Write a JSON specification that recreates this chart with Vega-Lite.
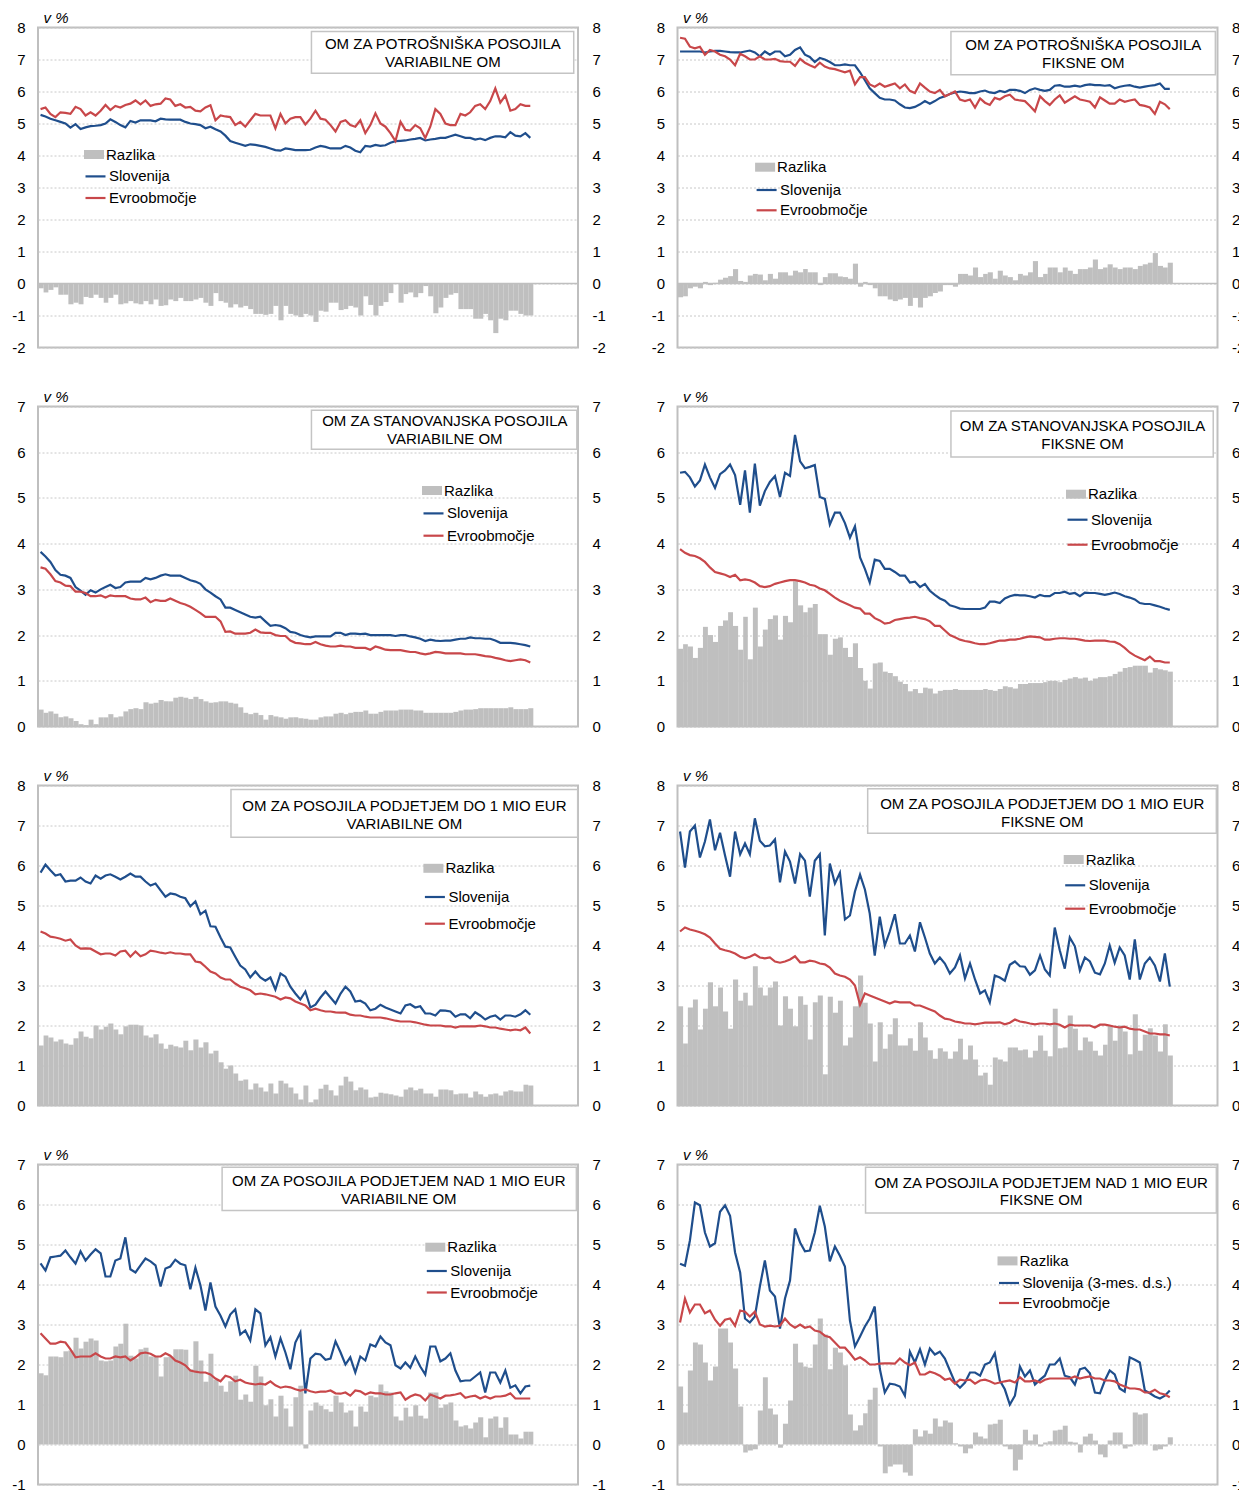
{
"$schema":"https://vega.github.io/schema/vega-lite/v6.json",
"padding":{"left":10,"top":9.5,"right":0,"bottom":0},
"columns":2,
"spacing":{"row":32,"column":42.5},
"datasets":{
"one":[{}],
"p1":[
{"t":"2012-01","b":-0.15,"s":5.27,"e":5.45},{"t":"2012-02","b":-0.28,"s":5.22,"e":5.5},{"t":"2012-03","b":-0.2,"s":5.15,"e":5.3},{"t":"2012-04","b":-0.12,"s":5.1,"e":5.2},{"t":"2012-05","b":-0.35,"s":5.05,"e":5.35},{"t":"2012-06","b":-0.35,"s":5.0,"e":5.33},{"t":"2012-07","b":-0.65,"s":4.87,"e":5.3},{"t":"2012-08","b":-0.6,"s":4.98,"e":5.52},{"t":"2012-09","b":-0.65,"s":4.83,"e":5.45},{"t":"2012-10","b":-0.42,"s":4.88,"e":5.25},{"t":"2012-11","b":-0.45,"s":4.92,"e":5.35},{"t":"2012-12","b":-0.35,"s":4.93,"e":5.25},
{"t":"2013-01","b":-0.45,"s":4.95,"e":5.4},{"t":"2013-02","b":-0.6,"s":5.0,"e":5.58},{"t":"2013-03","b":-0.45,"s":5.13,"e":5.42},{"t":"2013-04","b":-0.35,"s":5.05,"e":5.55},{"t":"2013-05","b":-0.65,"s":4.95,"e":5.5},{"t":"2013-06","b":-0.62,"s":4.88,"e":5.58},{"t":"2013-07","b":-0.55,"s":5.08,"e":5.62},{"t":"2013-08","b":-0.62,"s":5.03,"e":5.72},{"t":"2013-09","b":-0.65,"s":5.1,"e":5.6},{"t":"2013-10","b":-0.55,"s":5.1,"e":5.72},{"t":"2013-11","b":-0.65,"s":5.1,"e":5.55},{"t":"2013-12","b":-0.5,"s":5.07,"e":5.6},
{"t":"2014-01","b":-0.7,"s":5.15,"e":5.62},{"t":"2014-02","b":-0.68,"s":5.13,"e":5.78},{"t":"2014-03","b":-0.5,"s":5.12,"e":5.75},{"t":"2014-04","b":-0.55,"s":5.12,"e":5.55},{"t":"2014-05","b":-0.45,"s":5.12,"e":5.6},{"t":"2014-06","b":-0.55,"s":5.05,"e":5.5},{"t":"2014-07","b":-0.55,"s":5.0,"e":5.52},{"t":"2014-08","b":-0.5,"s":4.98,"e":5.4},{"t":"2014-09","b":-0.45,"s":4.95,"e":5.38},{"t":"2014-10","b":-0.6,"s":4.85,"e":5.5},{"t":"2014-11","b":-0.7,"s":4.9,"e":5.57},{"t":"2014-12","b":-0.3,"s":4.82,"e":5.1},
{"t":"2015-01","b":-0.55,"s":4.75,"e":5.25},{"t":"2015-02","b":-0.6,"s":4.62,"e":5.22},{"t":"2015-03","b":-0.75,"s":4.45,"e":5.2},{"t":"2015-04","b":-0.65,"s":4.4,"e":4.95},{"t":"2015-05","b":-0.75,"s":4.35,"e":5.05},{"t":"2015-06","b":-0.7,"s":4.3,"e":4.9},{"t":"2015-07","b":-0.8,"s":4.35,"e":5.1},{"t":"2015-08","b":-0.95,"s":4.33,"e":5.3},{"t":"2015-09","b":-0.95,"s":4.3,"e":5.25},{"t":"2015-10","b":-0.98,"s":4.27,"e":5.25},{"t":"2015-11","b":-0.95,"s":4.22,"e":5.25},{"t":"2015-12","b":-0.7,"s":4.17,"e":4.85},
{"t":"2016-01","b":-1.15,"s":4.15,"e":5.3},{"t":"2016-02","b":-0.7,"s":4.22,"e":5.0},{"t":"2016-03","b":-0.95,"s":4.2,"e":5.15},{"t":"2016-04","b":-1.0,"s":4.17,"e":5.2},{"t":"2016-05","b":-1.05,"s":4.17,"e":5.2},{"t":"2016-06","b":-0.95,"s":4.17,"e":4.97},{"t":"2016-07","b":-1.0,"s":4.18,"e":5.15},{"t":"2016-08","b":-1.2,"s":4.25,"e":5.4},{"t":"2016-09","b":-0.85,"s":4.3,"e":5.15},{"t":"2016-10","b":-0.88,"s":4.27,"e":5.12},{"t":"2016-11","b":-0.6,"s":4.22,"e":4.95},{"t":"2016-12","b":-0.6,"s":4.22,"e":4.75},
{"t":"2017-01","b":-0.83,"s":4.22,"e":5.05},{"t":"2017-02","b":-0.8,"s":4.3,"e":5.1},{"t":"2017-03","b":-0.7,"s":4.25,"e":4.95},{"t":"2017-04","b":-0.75,"s":4.15,"e":4.9},{"t":"2017-05","b":-1.0,"s":4.1,"e":5.1},{"t":"2017-06","b":-0.4,"s":4.3,"e":4.7},{"t":"2017-07","b":-0.67,"s":4.28,"e":4.95},{"t":"2017-08","b":-1.0,"s":4.33,"e":5.32},{"t":"2017-09","b":-0.7,"s":4.3,"e":5.0},{"t":"2017-10","b":-0.58,"s":4.32,"e":4.9},{"t":"2017-11","b":-0.3,"s":4.4,"e":4.7},{"t":"2017-12","b":0.0,"s":4.45,"e":4.45},
{"t":"2018-01","b":-0.6,"s":4.46,"e":5.05},{"t":"2018-02","b":-0.33,"s":4.47,"e":4.8},{"t":"2018-03","b":-0.28,"s":4.5,"e":4.78},{"t":"2018-04","b":-0.43,"s":4.52,"e":4.95},{"t":"2018-05","b":-0.3,"s":4.55,"e":4.85},{"t":"2018-06","b":-0.08,"s":4.47,"e":4.55},{"t":"2018-07","b":-0.4,"s":4.5,"e":4.9},{"t":"2018-08","b":-0.93,"s":4.52,"e":5.45},{"t":"2018-09","b":-0.75,"s":4.55,"e":5.3},{"t":"2018-10","b":-0.45,"s":4.55,"e":5.0},{"t":"2018-11","b":-0.35,"s":4.6,"e":4.95},{"t":"2018-12","b":-0.3,"s":4.65,"e":4.95},
{"t":"2019-01","b":-0.8,"s":4.6,"e":5.3},{"t":"2019-02","b":-0.8,"s":4.55,"e":5.25},{"t":"2019-03","b":-0.8,"s":4.55,"e":5.35},{"t":"2019-04","b":-1.1,"s":4.5,"e":5.55},{"t":"2019-05","b":-1.1,"s":4.53,"e":5.6},{"t":"2019-06","b":-0.95,"s":4.48,"e":5.45},{"t":"2019-07","b":-1.15,"s":4.55,"e":5.7},{"t":"2019-08","b":-1.55,"s":4.6,"e":6.1},{"t":"2019-09","b":-1.1,"s":4.6,"e":5.65},{"t":"2019-10","b":-1.15,"s":4.57,"e":5.87},{"t":"2019-11","b":-0.85,"s":4.73,"e":5.4},{"t":"2019-12","b":-0.85,"s":4.62,"e":5.45},
{"t":"2020-01","b":-0.95,"s":4.6,"e":5.6},{"t":"2020-02","b":-1.0,"s":4.7,"e":5.55},{"t":"2020-03","b":-1.0,"s":4.55,"e":5.55}],
"p2":[
{"t":"2012-01","b":-0.43,"s":7.25,"e":7.68},{"t":"2012-02","b":-0.4,"s":7.25,"e":7.65},{"t":"2012-03","b":-0.15,"s":7.25,"e":7.4},{"t":"2012-04","b":-0.1,"s":7.25,"e":7.35},{"t":"2012-05","b":-0.15,"s":7.25,"e":7.4},{"t":"2012-06","b":0.05,"s":7.22,"e":7.15},{"t":"2012-07","b":-0.05,"s":7.25,"e":7.3},{"t":"2012-08","b":0.02,"s":7.27,"e":7.25},{"t":"2012-09","b":0.12,"s":7.27,"e":7.15},{"t":"2012-10","b":0.18,"s":7.25,"e":7.1},{"t":"2012-11","b":0.23,"s":7.23,"e":7.0},{"t":"2012-12","b":0.45,"s":7.22,"e":6.82},
{"t":"2013-01","b":0.08,"s":7.22,"e":7.18},{"t":"2013-02","b":0.05,"s":7.25,"e":7.1},{"t":"2013-03","b":0.25,"s":7.28,"e":7.0},{"t":"2013-04","b":0.3,"s":7.22,"e":7.0},{"t":"2013-05","b":0.28,"s":7.1,"e":7.1},{"t":"2013-06","b":0.1,"s":7.25,"e":7.0},{"t":"2013-07","b":0.3,"s":7.15,"e":7.0},{"t":"2013-08","b":0.15,"s":7.25,"e":7.02},{"t":"2013-09","b":0.35,"s":7.25,"e":6.95},{"t":"2013-10","b":0.35,"s":7.1,"e":6.93},{"t":"2013-11","b":0.25,"s":7.15,"e":6.93},{"t":"2013-12","b":0.4,"s":7.3,"e":6.8},
{"t":"2014-01","b":0.35,"s":7.38,"e":7.02},{"t":"2014-02","b":0.45,"s":7.15,"e":6.9},{"t":"2014-03","b":0.35,"s":7.08,"e":6.82},{"t":"2014-04","b":0.35,"s":6.92,"e":6.75},{"t":"2014-05","b":-0.05,"s":7.05,"e":6.9},{"t":"2014-06","b":0.2,"s":7.0,"e":6.78},{"t":"2014-07","b":0.32,"s":6.92,"e":6.72},{"t":"2014-08","b":0.32,"s":6.82,"e":6.7},{"t":"2014-09","b":0.22,"s":6.82,"e":6.65},{"t":"2014-10","b":0.2,"s":6.85,"e":6.6},{"t":"2014-11","b":0.15,"s":6.82,"e":6.65},{"t":"2014-12","b":0.62,"s":6.82,"e":6.22},
{"t":"2015-01","b":-0.1,"s":6.6,"e":6.45},{"t":"2015-02","b":0.05,"s":6.35,"e":6.45},{"t":"2015-03","b":-0.05,"s":6.1,"e":6.22},{"t":"2015-04","b":-0.15,"s":5.95,"e":6.15},{"t":"2015-05","b":-0.4,"s":5.8,"e":6.25},{"t":"2015-06","b":-0.4,"s":5.75,"e":6.15},{"t":"2015-07","b":-0.5,"s":5.75,"e":6.2},{"t":"2015-08","b":-0.55,"s":5.72,"e":6.25},{"t":"2015-09","b":-0.5,"s":5.6,"e":6.1},{"t":"2015-10","b":-0.45,"s":5.5,"e":6.22},{"t":"2015-11","b":-0.7,"s":5.48,"e":6.02},{"t":"2015-12","b":-0.45,"s":5.52,"e":5.95},
{"t":"2016-01","b":-0.75,"s":5.6,"e":6.25},{"t":"2016-02","b":-0.45,"s":5.7,"e":6.12},{"t":"2016-03","b":-0.4,"s":5.62,"e":6.0},{"t":"2016-04","b":-0.3,"s":5.7,"e":5.95},{"t":"2016-05","b":-0.25,"s":5.8,"e":6.05},{"t":"2016-06","b":-0.05,"s":5.85,"e":5.85},{"t":"2016-07","b":-0.05,"s":5.92,"e":5.92},{"t":"2016-08","b":-0.1,"s":5.97,"e":6.0},{"t":"2016-09","b":0.3,"s":6.0,"e":5.75},{"t":"2016-10","b":0.3,"s":5.98,"e":5.7},{"t":"2016-11","b":0.25,"s":5.95,"e":5.75},{"t":"2016-12","b":0.5,"s":5.95,"e":5.5},
{"t":"2017-01","b":0.2,"s":6.0,"e":5.78},{"t":"2017-02","b":0.3,"s":6.03,"e":5.65},{"t":"2017-03","b":0.35,"s":5.97,"e":5.58},{"t":"2017-04","b":0.15,"s":5.95,"e":5.8},{"t":"2017-05","b":0.4,"s":6.02,"e":5.75},{"t":"2017-06","b":0.25,"s":5.98,"e":5.85},{"t":"2017-07","b":0.2,"s":6.05,"e":5.9},{"t":"2017-08","b":0.1,"s":6.05,"e":5.75},{"t":"2017-09","b":0.3,"s":6.02,"e":5.72},{"t":"2017-10","b":0.25,"s":5.95,"e":5.7},{"t":"2017-11","b":0.35,"s":6.05,"e":5.55},{"t":"2017-12","b":0.7,"s":6.1,"e":5.38},
{"t":"2018-01","b":0.2,"s":6.05,"e":5.85},{"t":"2018-02","b":0.3,"s":6.02,"e":5.7},{"t":"2018-03","b":0.5,"s":6.05,"e":5.58},{"t":"2018-04","b":0.5,"s":6.18,"e":5.75},{"t":"2018-05","b":0.35,"s":6.2,"e":5.88},{"t":"2018-06","b":0.5,"s":6.15,"e":5.65},{"t":"2018-07","b":0.4,"s":6.15,"e":5.75},{"t":"2018-08","b":0.3,"s":6.18,"e":5.85},{"t":"2018-09","b":0.45,"s":6.15,"e":5.75},{"t":"2018-10","b":0.45,"s":6.2,"e":5.72},{"t":"2018-11","b":0.5,"s":6.22,"e":5.68},{"t":"2018-12","b":0.75,"s":6.2,"e":5.5},
{"t":"2019-01","b":0.45,"s":6.2,"e":5.82},{"t":"2019-02","b":0.5,"s":6.18,"e":5.72},{"t":"2019-03","b":0.6,"s":6.2,"e":5.62},{"t":"2019-04","b":0.5,"s":6.1,"e":5.62},{"t":"2019-05","b":0.45,"s":6.15,"e":5.75},{"t":"2019-06","b":0.5,"s":6.18,"e":5.68},{"t":"2019-07","b":0.5,"s":6.2,"e":5.72},{"t":"2019-08","b":0.45,"s":6.15,"e":5.75},{"t":"2019-09","b":0.55,"s":6.12,"e":5.58},{"t":"2019-10","b":0.6,"s":6.15,"e":5.55},{"t":"2019-11","b":0.65,"s":6.18,"e":5.5},{"t":"2019-12","b":0.95,"s":6.2,"e":5.3},
{"t":"2020-01","b":0.55,"s":6.25,"e":5.68},{"t":"2020-02","b":0.5,"s":6.08,"e":5.6},{"t":"2020-03","b":0.65,"s":6.08,"e":5.45}],
"p3":[
{"t":"2012-01","b":0.37,"s":3.82,"e":3.48},{"t":"2012-02","b":0.3,"s":3.72,"e":3.45},{"t":"2012-03","b":0.33,"s":3.6,"e":3.33},{"t":"2012-04","b":0.28,"s":3.42,"e":3.18},{"t":"2012-05","b":0.2,"s":3.32,"e":3.15},{"t":"2012-06","b":0.22,"s":3.3,"e":3.08},{"t":"2012-07","b":0.18,"s":3.25,"e":3.07},{"t":"2012-08","b":0.12,"s":3.05,"e":2.95},{"t":"2012-09","b":0.05,"s":2.97,"e":2.95},{"t":"2012-10","b":0.03,"s":2.88,"e":2.92},{"t":"2012-11","b":0.15,"s":2.98,"e":2.85},{"t":"2012-12","b":0.05,"s":2.93,"e":2.85},
{"t":"2013-01","b":0.2,"s":3.0,"e":2.87},{"t":"2013-02","b":0.2,"s":3.05,"e":2.82},{"t":"2013-03","b":0.27,"s":3.1,"e":2.87},{"t":"2013-04","b":0.2,"s":3.03,"e":2.85},{"t":"2013-05","b":0.22,"s":3.05,"e":2.85},{"t":"2013-06","b":0.33,"s":3.15,"e":2.85},{"t":"2013-07","b":0.38,"s":3.17,"e":2.8},{"t":"2013-08","b":0.4,"s":3.17,"e":2.78},{"t":"2013-09","b":0.38,"s":3.17,"e":2.78},{"t":"2013-10","b":0.53,"s":3.25,"e":2.82},{"t":"2013-11","b":0.5,"s":3.22,"e":2.72},{"t":"2013-12","b":0.52,"s":3.25,"e":2.77},
{"t":"2014-01","b":0.58,"s":3.3,"e":2.75},{"t":"2014-02","b":0.55,"s":3.33,"e":2.75},{"t":"2014-03","b":0.55,"s":3.3,"e":2.8},{"t":"2014-04","b":0.63,"s":3.3,"e":2.75},{"t":"2014-05","b":0.65,"s":3.3,"e":2.7},{"t":"2014-06","b":0.63,"s":3.25,"e":2.67},{"t":"2014-07","b":0.6,"s":3.2,"e":2.62},{"t":"2014-08","b":0.65,"s":3.17,"e":2.55},{"t":"2014-09","b":0.6,"s":3.12,"e":2.48},{"t":"2014-10","b":0.55,"s":3.0,"e":2.4},{"t":"2014-11","b":0.52,"s":2.93,"e":2.4},{"t":"2014-12","b":0.53,"s":2.85,"e":2.4},
{"t":"2015-01","b":0.55,"s":2.78,"e":2.3},{"t":"2015-02","b":0.55,"s":2.6,"e":2.07},{"t":"2015-03","b":0.52,"s":2.6,"e":2.08},{"t":"2015-04","b":0.5,"s":2.55,"e":2.03},{"t":"2015-05","b":0.42,"s":2.5,"e":2.03},{"t":"2015-06","b":0.3,"s":2.45,"e":2.03},{"t":"2015-07","b":0.27,"s":2.4,"e":2.05},{"t":"2015-08","b":0.3,"s":2.38,"e":2.12},{"t":"2015-09","b":0.25,"s":2.4,"e":2.06},{"t":"2015-10","b":0.15,"s":2.3,"e":2.05},{"t":"2015-11","b":0.25,"s":2.2,"e":2.05},{"t":"2015-12","b":0.22,"s":2.22,"e":2.0},
{"t":"2016-01","b":0.2,"s":2.2,"e":1.98},{"t":"2016-02","b":0.17,"s":2.15,"e":1.98},{"t":"2016-03","b":0.2,"s":2.07,"e":1.88},{"t":"2016-04","b":0.2,"s":2.05,"e":1.83},{"t":"2016-05","b":0.18,"s":2.0,"e":1.82},{"t":"2016-06","b":0.17,"s":1.97,"e":1.8},{"t":"2016-07","b":0.15,"s":1.95,"e":1.8},{"t":"2016-08","b":0.15,"s":1.97,"e":1.85},{"t":"2016-09","b":0.2,"s":1.97,"e":1.8},{"t":"2016-10","b":0.22,"s":1.97,"e":1.77},{"t":"2016-11","b":0.22,"s":1.97,"e":1.75},{"t":"2016-12","b":0.28,"s":2.05,"e":1.75},
{"t":"2017-01","b":0.3,"s":2.05,"e":1.77},{"t":"2017-02","b":0.27,"s":2.0,"e":1.75},{"t":"2017-03","b":0.3,"s":2.03,"e":1.75},{"t":"2017-04","b":0.32,"s":2.03,"e":1.72},{"t":"2017-05","b":0.32,"s":2.02,"e":1.72},{"t":"2017-06","b":0.35,"s":2.03,"e":1.72},{"t":"2017-07","b":0.28,"s":2.0,"e":1.68},{"t":"2017-08","b":0.28,"s":2.0,"e":1.75},{"t":"2017-09","b":0.32,"s":2.0,"e":1.72},{"t":"2017-10","b":0.35,"s":2.0,"e":1.68},{"t":"2017-11","b":0.35,"s":2.0,"e":1.67},{"t":"2017-12","b":0.35,"s":1.98,"e":1.67},
{"t":"2018-01","b":0.37,"s":2.0,"e":1.67},{"t":"2018-02","b":0.37,"s":2.0,"e":1.65},{"t":"2018-03","b":0.37,"s":1.97,"e":1.63},{"t":"2018-04","b":0.35,"s":1.95,"e":1.63},{"t":"2018-05","b":0.35,"s":1.92,"e":1.6},{"t":"2018-06","b":0.3,"s":1.87,"e":1.58},{"t":"2018-07","b":0.3,"s":1.9,"e":1.6},{"t":"2018-08","b":0.3,"s":1.88,"e":1.63},{"t":"2018-09","b":0.3,"s":1.87,"e":1.62},{"t":"2018-10","b":0.3,"s":1.88,"e":1.6},{"t":"2018-11","b":0.3,"s":1.88,"e":1.6},{"t":"2018-12","b":0.32,"s":1.9,"e":1.6},
{"t":"2019-01","b":0.35,"s":1.92,"e":1.6},{"t":"2019-02","b":0.37,"s":1.92,"e":1.58},{"t":"2019-03","b":0.37,"s":1.95,"e":1.58},{"t":"2019-04","b":0.38,"s":1.93,"e":1.58},{"t":"2019-05","b":0.4,"s":1.93,"e":1.56},{"t":"2019-06","b":0.4,"s":1.92,"e":1.54},{"t":"2019-07","b":0.4,"s":1.92,"e":1.53},{"t":"2019-08","b":0.4,"s":1.88,"e":1.5},{"t":"2019-09","b":0.4,"s":1.83,"e":1.48},{"t":"2019-10","b":0.4,"s":1.83,"e":1.45},{"t":"2019-11","b":0.42,"s":1.83,"e":1.43},{"t":"2019-12","b":0.38,"s":1.82,"e":1.45},
{"t":"2020-01","b":0.38,"s":1.8,"e":1.47},{"t":"2020-02","b":0.38,"s":1.78,"e":1.45},{"t":"2020-03","b":0.4,"s":1.75,"e":1.4}],
"p4":[
{"t":"2012-01","b":1.7,"s":5.55,"e":3.88},{"t":"2012-02","b":1.8,"s":5.57,"e":3.8},{"t":"2012-03","b":1.75,"s":5.45,"e":3.75},{"t":"2012-04","b":1.5,"s":5.25,"e":3.73},{"t":"2012-05","b":1.72,"s":5.38,"e":3.68},{"t":"2012-06","b":2.18,"s":5.73,"e":3.6},{"t":"2012-07","b":2.0,"s":5.45,"e":3.48},{"t":"2012-08","b":1.85,"s":5.22,"e":3.38},{"t":"2012-09","b":2.2,"s":5.52,"e":3.35},{"t":"2012-10","b":2.32,"s":5.6,"e":3.32},{"t":"2012-11","b":2.5,"s":5.73,"e":3.27},{"t":"2012-12","b":2.2,"s":5.5,"e":3.32},
{"t":"2013-01","b":1.68,"s":4.85,"e":3.2},{"t":"2013-02","b":2.4,"s":5.6,"e":3.22},{"t":"2013-03","b":1.47,"s":4.68,"e":3.2},{"t":"2013-04","b":2.6,"s":5.75,"e":3.15},{"t":"2013-05","b":1.75,"s":4.83,"e":3.07},{"t":"2013-06","b":2.12,"s":5.15,"e":3.05},{"t":"2013-07","b":2.35,"s":5.35,"e":3.07},{"t":"2013-08","b":2.43,"s":5.48,"e":3.12},{"t":"2013-09","b":1.9,"s":5.02,"e":3.15},{"t":"2013-10","b":2.42,"s":5.55,"e":3.18},{"t":"2013-11","b":2.28,"s":5.48,"e":3.2},{"t":"2013-12","b":3.18,"s":6.38,"e":3.2},
{"t":"2014-01","b":2.65,"s":5.8,"e":3.18},{"t":"2014-02","b":2.5,"s":5.65,"e":3.15},{"t":"2014-03","b":2.6,"s":5.68,"e":3.1},{"t":"2014-04","b":2.68,"s":5.72,"e":3.08},{"t":"2014-05","b":2.02,"s":5.02,"e":3.02},{"t":"2014-06","b":2.02,"s":4.98,"e":2.98},{"t":"2014-07","b":1.57,"s":4.42,"e":2.9},{"t":"2014-08","b":1.92,"s":4.68,"e":2.82},{"t":"2014-09","b":1.95,"s":4.68,"e":2.75},{"t":"2014-10","b":1.72,"s":4.45,"e":2.7},{"t":"2014-11","b":1.52,"s":4.13,"e":2.65},{"t":"2014-12","b":1.82,"s":4.38,"e":2.6},
{"t":"2015-01","b":1.28,"s":3.7,"e":2.58},{"t":"2015-02","b":1.0,"s":3.45,"e":2.47},{"t":"2015-03","b":0.83,"s":3.15,"e":2.47},{"t":"2015-04","b":1.38,"s":3.65,"e":2.37},{"t":"2015-05","b":1.4,"s":3.62,"e":2.32},{"t":"2015-06","b":1.2,"s":3.45,"e":2.25},{"t":"2015-07","b":1.17,"s":3.45,"e":2.27},{"t":"2015-08","b":1.1,"s":3.38,"e":2.33},{"t":"2015-09","b":0.98,"s":3.3,"e":2.35},{"t":"2015-10","b":0.93,"s":3.3,"e":2.37},{"t":"2015-11","b":0.77,"s":3.15,"e":2.38},{"t":"2015-12","b":0.82,"s":3.17,"e":2.4},
{"t":"2016-01","b":0.73,"s":3.05,"e":2.37},{"t":"2016-02","b":0.85,"s":3.12,"e":2.35},{"t":"2016-03","b":0.83,"s":2.97,"e":2.3},{"t":"2016-04","b":0.72,"s":2.88,"e":2.2},{"t":"2016-05","b":0.78,"s":2.8,"e":2.2},{"t":"2016-06","b":0.8,"s":2.75,"e":2.1},{"t":"2016-07","b":0.8,"s":2.65,"e":2.0},{"t":"2016-08","b":0.82,"s":2.62,"e":1.95},{"t":"2016-09","b":0.8,"s":2.58,"e":1.9},{"t":"2016-10","b":0.8,"s":2.57,"e":1.87},{"t":"2016-11","b":0.8,"s":2.57,"e":1.85},{"t":"2016-12","b":0.8,"s":2.57,"e":1.82},
{"t":"2017-01","b":0.8,"s":2.57,"e":1.8},{"t":"2017-02","b":0.82,"s":2.6,"e":1.8},{"t":"2017-03","b":0.8,"s":2.73,"e":1.82},{"t":"2017-04","b":0.78,"s":2.73,"e":1.85},{"t":"2017-05","b":0.82,"s":2.7,"e":1.88},{"t":"2017-06","b":0.88,"s":2.8,"e":1.88},{"t":"2017-07","b":0.86,"s":2.85,"e":1.9},{"t":"2017-08","b":0.83,"s":2.88,"e":1.9},{"t":"2017-09","b":0.93,"s":2.87,"e":1.92},{"t":"2017-10","b":0.93,"s":2.87,"e":1.95},{"t":"2017-11","b":0.95,"s":2.85,"e":1.97},{"t":"2017-12","b":0.95,"s":2.82,"e":1.96},
{"t":"2018-01","b":0.95,"s":2.88,"e":1.95},{"t":"2018-02","b":0.97,"s":2.85,"e":1.9},{"t":"2018-03","b":1.0,"s":2.85,"e":1.9},{"t":"2018-04","b":1.0,"s":2.92,"e":1.92},{"t":"2018-05","b":0.97,"s":2.92,"e":1.93},{"t":"2018-06","b":1.02,"s":2.95,"e":1.93},{"t":"2018-07","b":1.05,"s":2.9,"e":1.92},{"t":"2018-08","b":1.08,"s":2.92,"e":1.92},{"t":"2018-09","b":1.05,"s":2.85,"e":1.9},{"t":"2018-10","b":1.07,"s":2.93,"e":1.88},{"t":"2018-11","b":1.0,"s":2.92,"e":1.87},{"t":"2018-12","b":1.05,"s":2.92,"e":1.88},
{"t":"2019-01","b":1.08,"s":2.9,"e":1.88},{"t":"2019-02","b":1.08,"s":2.88,"e":1.88},{"t":"2019-03","b":1.1,"s":2.9,"e":1.86},{"t":"2019-04","b":1.15,"s":2.93,"e":1.85},{"t":"2019-05","b":1.2,"s":2.9,"e":1.8},{"t":"2019-06","b":1.28,"s":2.85,"e":1.72},{"t":"2019-07","b":1.3,"s":2.82,"e":1.62},{"t":"2019-08","b":1.33,"s":2.78,"e":1.55},{"t":"2019-09","b":1.33,"s":2.7,"e":1.5},{"t":"2019-10","b":1.33,"s":2.68,"e":1.45},{"t":"2019-11","b":1.18,"s":2.68,"e":1.53},{"t":"2019-12","b":1.28,"s":2.65,"e":1.43},
{"t":"2020-01","b":1.25,"s":2.62,"e":1.43},{"t":"2020-02","b":1.23,"s":2.58,"e":1.4},{"t":"2020-03","b":1.2,"s":2.55,"e":1.4}],
"p5":[
{"t":"2012-01","b":1.5,"s":5.82,"e":4.35},{"t":"2012-02","b":1.75,"s":6.02,"e":4.3},{"t":"2012-03","b":1.7,"s":5.88,"e":4.22},{"t":"2012-04","b":1.6,"s":5.75,"e":4.2},{"t":"2012-05","b":1.65,"s":5.78,"e":4.17},{"t":"2012-06","b":1.55,"s":5.6,"e":4.12},{"t":"2012-07","b":1.52,"s":5.62,"e":4.15},{"t":"2012-08","b":1.68,"s":5.62,"e":4.0},{"t":"2012-09","b":1.85,"s":5.7,"e":3.92},{"t":"2012-10","b":1.72,"s":5.6,"e":3.93},{"t":"2012-11","b":1.68,"s":5.55,"e":3.92},{"t":"2012-12","b":2.0,"s":5.75,"e":3.85},
{"t":"2013-01","b":1.9,"s":5.67,"e":3.78},{"t":"2013-02","b":1.97,"s":5.75,"e":3.8},{"t":"2013-03","b":2.05,"s":5.78,"e":3.8},{"t":"2013-04","b":1.9,"s":5.72,"e":3.75},{"t":"2013-05","b":1.78,"s":5.65,"e":3.85},{"t":"2013-06","b":1.98,"s":5.72,"e":3.87},{"t":"2013-07","b":2.02,"s":5.8,"e":3.72},{"t":"2013-08","b":2.02,"s":5.72,"e":3.85},{"t":"2013-09","b":2.0,"s":5.72,"e":3.73},{"t":"2013-10","b":1.75,"s":5.6,"e":3.78},{"t":"2013-11","b":1.7,"s":5.5,"e":3.87},{"t":"2013-12","b":1.78,"s":5.55,"e":3.85},
{"t":"2014-01","b":1.55,"s":5.38,"e":3.82},{"t":"2014-02","b":1.42,"s":5.22,"e":3.8},{"t":"2014-03","b":1.52,"s":5.3,"e":3.83},{"t":"2014-04","b":1.48,"s":5.28,"e":3.8},{"t":"2014-05","b":1.45,"s":5.22,"e":3.8},{"t":"2014-06","b":1.62,"s":5.18,"e":3.78},{"t":"2014-07","b":1.38,"s":4.98,"e":3.78},{"t":"2014-08","b":1.65,"s":5.1,"e":3.6},{"t":"2014-09","b":1.45,"s":4.78,"e":3.58},{"t":"2014-10","b":1.58,"s":4.87,"e":3.47},{"t":"2014-11","b":1.3,"s":4.48,"e":3.35},{"t":"2014-12","b":1.37,"s":4.47,"e":3.3},
{"t":"2015-01","b":1.08,"s":4.2,"e":3.2},{"t":"2015-02","b":0.92,"s":3.97,"e":3.15},{"t":"2015-03","b":1.0,"s":3.95,"e":3.15},{"t":"2015-04","b":0.8,"s":3.72,"e":3.05},{"t":"2015-05","b":0.62,"s":3.5,"e":2.97},{"t":"2015-06","b":0.65,"s":3.4,"e":2.93},{"t":"2015-07","b":0.4,"s":3.2,"e":2.88},{"t":"2015-08","b":0.55,"s":3.35,"e":2.78},{"t":"2015-09","b":0.45,"s":3.2,"e":2.8},{"t":"2015-10","b":0.35,"s":3.12,"e":2.78},{"t":"2015-11","b":0.55,"s":3.2,"e":2.75},{"t":"2015-12","b":0.3,"s":2.9,"e":2.72},
{"t":"2016-01","b":0.62,"s":3.3,"e":2.65},{"t":"2016-02","b":0.55,"s":3.22,"e":2.7},{"t":"2016-03","b":0.45,"s":2.97,"e":2.68},{"t":"2016-04","b":0.3,"s":2.8,"e":2.6},{"t":"2016-05","b":0.15,"s":2.65,"e":2.55},{"t":"2016-06","b":0.5,"s":2.85,"e":2.5},{"t":"2016-07","b":0.08,"s":2.45,"e":2.38},{"t":"2016-08","b":0.15,"s":2.52,"e":2.42},{"t":"2016-09","b":0.42,"s":2.7,"e":2.38},{"t":"2016-10","b":0.52,"s":2.85,"e":2.35},{"t":"2016-11","b":0.38,"s":2.7,"e":2.35},{"t":"2016-12","b":0.25,"s":2.55,"e":2.33},
{"t":"2017-01","b":0.5,"s":2.8,"e":2.32},{"t":"2017-02","b":0.72,"s":2.97,"e":2.32},{"t":"2017-03","b":0.6,"s":2.85,"e":2.27},{"t":"2017-04","b":0.38,"s":2.6,"e":2.25},{"t":"2017-05","b":0.45,"s":2.62,"e":2.25},{"t":"2017-06","b":0.4,"s":2.55,"e":2.22},{"t":"2017-07","b":0.2,"s":2.38,"e":2.2},{"t":"2017-08","b":0.22,"s":2.42,"e":2.2},{"t":"2017-09","b":0.32,"s":2.52,"e":2.2},{"t":"2017-10","b":0.3,"s":2.45,"e":2.18},{"t":"2017-11","b":0.28,"s":2.4,"e":2.15},{"t":"2017-12","b":0.25,"s":2.35,"e":2.12},
{"t":"2018-01","b":0.22,"s":2.3,"e":2.1},{"t":"2018-02","b":0.4,"s":2.5,"e":2.1},{"t":"2018-03","b":0.45,"s":2.53,"e":2.1},{"t":"2018-04","b":0.38,"s":2.45,"e":2.08},{"t":"2018-05","b":0.42,"s":2.48,"e":2.05},{"t":"2018-06","b":0.3,"s":2.3,"e":2.02},{"t":"2018-07","b":0.3,"s":2.3,"e":2.0},{"t":"2018-08","b":0.22,"s":2.25,"e":2.0},{"t":"2018-09","b":0.4,"s":2.38,"e":2.0},{"t":"2018-10","b":0.4,"s":2.37,"e":1.98},{"t":"2018-11","b":0.38,"s":2.35,"e":1.98},{"t":"2018-12","b":0.28,"s":2.22,"e":1.95},
{"t":"2019-01","b":0.3,"s":2.28,"e":1.98},{"t":"2019-02","b":0.3,"s":2.28,"e":1.98},{"t":"2019-03","b":0.2,"s":2.18,"e":1.98},{"t":"2019-04","b":0.35,"s":2.33,"e":1.98},{"t":"2019-05","b":0.28,"s":2.25,"e":2.0},{"t":"2019-06","b":0.22,"s":2.15,"e":1.98},{"t":"2019-07","b":0.28,"s":2.22,"e":1.95},{"t":"2019-08","b":0.3,"s":2.25,"e":1.95},{"t":"2019-09","b":0.25,"s":2.15,"e":1.92},{"t":"2019-10","b":0.35,"s":2.25,"e":1.9},{"t":"2019-11","b":0.38,"s":2.25,"e":1.88},{"t":"2019-12","b":0.35,"s":2.22,"e":1.9},
{"t":"2020-01","b":0.35,"s":2.28,"e":1.88},{"t":"2020-02","b":0.52,"s":2.38,"e":1.95},{"t":"2020-03","b":0.5,"s":2.27,"e":1.8}],
"p6":[
{"t":"2012-01","b":2.48,"s":6.85,"e":4.35},{"t":"2012-02","b":1.55,"s":5.95,"e":4.45},{"t":"2012-03","b":2.45,"s":6.85,"e":4.4},{"t":"2012-04","b":2.65,"s":7.0,"e":4.37},{"t":"2012-05","b":1.9,"s":6.2,"e":4.33},{"t":"2012-06","b":2.42,"s":6.6,"e":4.28},{"t":"2012-07","b":3.08,"s":7.15,"e":4.2},{"t":"2012-08","b":2.48,"s":6.38,"e":4.05},{"t":"2012-09","b":2.95,"s":6.82,"e":3.92},{"t":"2012-10","b":2.35,"s":6.25,"e":3.88},{"t":"2012-11","b":1.92,"s":5.72,"e":3.85},{"t":"2012-12","b":3.15,"s":6.85,"e":3.8},
{"t":"2013-01","b":2.62,"s":6.28,"e":3.72},{"t":"2013-02","b":2.82,"s":6.55,"e":3.68},{"t":"2013-03","b":2.5,"s":6.28,"e":3.72},{"t":"2013-04","b":3.48,"s":7.18,"e":3.78},{"t":"2013-05","b":2.95,"s":6.62,"e":3.7},{"t":"2013-06","b":2.75,"s":6.48,"e":3.68},{"t":"2013-07","b":2.95,"s":6.5,"e":3.7},{"t":"2013-08","b":3.1,"s":6.65,"e":3.6},{"t":"2013-09","b":2.0,"s":5.58,"e":3.57},{"t":"2013-10","b":2.73,"s":6.35,"e":3.6},{"t":"2013-11","b":2.42,"s":6.1,"e":3.65},{"t":"2013-12","b":1.98,"s":5.55,"e":3.73},
{"t":"2014-01","b":2.73,"s":6.28,"e":3.58},{"t":"2014-02","b":2.52,"s":6.12,"e":3.58},{"t":"2014-03","b":1.65,"s":5.22,"e":3.62},{"t":"2014-04","b":2.58,"s":6.12,"e":3.6},{"t":"2014-05","b":2.75,"s":6.28,"e":3.55},{"t":"2014-06","b":0.78,"s":4.25,"e":3.53},{"t":"2014-07","b":2.72,"s":6.05,"e":3.45},{"t":"2014-08","b":2.32,"s":5.55,"e":3.3},{"t":"2014-09","b":2.62,"s":5.82,"e":3.25},{"t":"2014-10","b":1.5,"s":4.65,"e":3.22},{"t":"2014-11","b":1.7,"s":4.75,"e":3.15},{"t":"2014-12","b":2.48,"s":5.35,"e":3.0},
{"t":"2015-01","b":3.25,"s":5.77,"e":2.52},{"t":"2015-02","b":2.57,"s":5.4,"e":2.8},{"t":"2015-03","b":2.05,"s":4.8,"e":2.75},{"t":"2015-04","b":1.1,"s":3.75,"e":2.7},{"t":"2015-05","b":2.08,"s":4.72,"e":2.65},{"t":"2015-06","b":1.42,"s":4.0,"e":2.6},{"t":"2015-07","b":1.78,"s":4.35,"e":2.55},{"t":"2015-08","b":2.18,"s":4.78,"e":2.6},{"t":"2015-09","b":1.5,"s":4.05,"e":2.58},{"t":"2015-10","b":1.5,"s":4.05,"e":2.58},{"t":"2015-11","b":1.68,"s":4.25,"e":2.58},{"t":"2015-12","b":1.37,"s":3.85,"e":2.5},
{"t":"2016-01","b":2.08,"s":4.58,"e":2.5},{"t":"2016-02","b":1.7,"s":4.2,"e":2.45},{"t":"2016-03","b":1.38,"s":3.8,"e":2.4},{"t":"2016-04","b":1.17,"s":3.55,"e":2.35},{"t":"2016-05","b":1.43,"s":3.7,"e":2.25},{"t":"2016-06","b":1.35,"s":3.55,"e":2.17},{"t":"2016-07","b":1.17,"s":3.3,"e":2.15},{"t":"2016-08","b":1.35,"s":3.45,"e":2.1},{"t":"2016-09","b":1.67,"s":3.75,"e":2.08},{"t":"2016-10","b":1.15,"s":3.18,"e":2.05},{"t":"2016-11","b":1.5,"s":3.55,"e":2.05},{"t":"2016-12","b":1.15,"s":3.15,"e":2.03},
{"t":"2017-01","b":0.75,"s":2.8,"e":2.05},{"t":"2017-02","b":0.82,"s":2.88,"e":2.07},{"t":"2017-03","b":0.52,"s":2.58,"e":2.07},{"t":"2017-04","b":1.2,"s":3.25,"e":2.07},{"t":"2017-05","b":1.15,"s":3.2,"e":2.08},{"t":"2017-06","b":1.1,"s":3.12,"e":2.03},{"t":"2017-07","b":1.45,"s":3.52,"e":2.07},{"t":"2017-08","b":1.45,"s":3.6,"e":2.15},{"t":"2017-09","b":1.38,"s":3.48,"e":2.1},{"t":"2017-10","b":1.4,"s":3.47,"e":2.08},{"t":"2017-11","b":1.2,"s":3.27,"e":2.05},{"t":"2017-12","b":1.37,"s":3.38,"e":2.03},
{"t":"2018-01","b":1.75,"s":3.75,"e":2.05},{"t":"2018-02","b":1.37,"s":3.4,"e":2.05},{"t":"2018-03","b":1.23,"s":3.25,"e":2.03},{"t":"2018-04","b":2.42,"s":4.45,"e":2.05},{"t":"2018-05","b":1.43,"s":3.88,"e":2.02},{"t":"2018-06","b":1.45,"s":3.42,"e":1.95},{"t":"2018-07","b":2.25,"s":4.2,"e":2.02},{"t":"2018-08","b":1.92,"s":3.98,"e":2.0},{"t":"2018-09","b":1.38,"s":3.38,"e":2.0},{"t":"2018-10","b":1.7,"s":3.7,"e":2.0},{"t":"2018-11","b":1.6,"s":3.6,"e":2.0},{"t":"2018-12","b":1.37,"s":3.32,"e":1.95},
{"t":"2019-01","b":1.25,"s":3.28,"e":2.02},{"t":"2019-02","b":1.52,"s":3.55,"e":2.02},{"t":"2019-03","b":2.0,"s":4.0,"e":2.0},{"t":"2019-04","b":1.62,"s":3.57,"e":1.97},{"t":"2019-05","b":2.0,"s":3.95,"e":1.95},{"t":"2019-06","b":1.85,"s":3.75,"e":1.97},{"t":"2019-07","b":1.28,"s":3.15,"e":1.92},{"t":"2019-08","b":2.28,"s":4.15,"e":1.9},{"t":"2019-09","b":1.37,"s":3.15,"e":1.9},{"t":"2019-10","b":1.77,"s":3.55,"e":1.85},{"t":"2019-11","b":1.93,"s":3.7,"e":1.8},{"t":"2019-12","b":1.75,"s":3.5,"e":1.8},
{"t":"2020-01","b":1.35,"s":3.1,"e":1.78},{"t":"2020-02","b":2.03,"s":3.8,"e":1.78},{"t":"2020-03","b":1.25,"s":2.97,"e":1.75}],
"p7":[
{"t":"2012-01","b":1.78,"s":4.53,"e":2.78},{"t":"2012-02","b":1.73,"s":4.35,"e":2.65},{"t":"2012-03","b":2.2,"s":4.68,"e":2.52},{"t":"2012-04","b":2.2,"s":4.7,"e":2.52},{"t":"2012-05","b":2.18,"s":4.72,"e":2.57},{"t":"2012-06","b":2.33,"s":4.85,"e":2.55},{"t":"2012-07","b":2.35,"s":4.68,"e":2.38},{"t":"2012-08","b":2.67,"s":4.52,"e":2.18},{"t":"2012-09","b":2.4,"s":4.83,"e":2.2},{"t":"2012-10","b":2.57,"s":4.6,"e":2.2},{"t":"2012-11","b":2.65,"s":4.75,"e":2.2},{"t":"2012-12","b":2.6,"s":4.88,"e":2.28},
{"t":"2013-01","b":2.1,"s":4.78,"e":2.2},{"t":"2013-02","b":2.08,"s":4.2,"e":2.15},{"t":"2013-03","b":2.1,"s":4.2,"e":2.15},{"t":"2013-04","b":2.45,"s":4.6,"e":2.2},{"t":"2013-05","b":2.52,"s":4.65,"e":2.18},{"t":"2013-06","b":3.02,"s":5.18,"e":2.2},{"t":"2013-07","b":2.22,"s":4.38,"e":2.1},{"t":"2013-08","b":2.15,"s":4.3,"e":2.18},{"t":"2013-09","b":2.38,"s":4.48,"e":2.28},{"t":"2013-10","b":2.42,"s":4.65,"e":2.3},{"t":"2013-11","b":2.2,"s":4.58,"e":2.27},{"t":"2013-12","b":2.2,"s":4.48,"e":2.2},
{"t":"2014-01","b":1.7,"s":3.95,"e":2.2},{"t":"2014-02","b":2.18,"s":4.4,"e":2.28},{"t":"2014-03","b":2.2,"s":4.45,"e":2.22},{"t":"2014-04","b":2.38,"s":4.62,"e":2.1},{"t":"2014-05","b":2.38,"s":4.52,"e":2.05},{"t":"2014-06","b":2.37,"s":4.48,"e":1.98},{"t":"2014-07","b":1.88,"s":3.88,"e":1.85},{"t":"2014-08","b":2.58,"s":4.42,"e":1.82},{"t":"2014-09","b":2.1,"s":3.98,"e":1.8},{"t":"2014-10","b":1.57,"s":3.35,"e":1.8},{"t":"2014-11","b":2.27,"s":4.05,"e":1.75},{"t":"2014-12","b":1.62,"s":3.45,"e":1.65},
{"t":"2015-01","b":1.47,"s":3.22,"e":1.58},{"t":"2015-02","b":1.32,"s":2.95,"e":1.72},{"t":"2015-03","b":1.58,"s":3.25,"e":1.68},{"t":"2015-04","b":1.72,"s":3.38,"e":1.58},{"t":"2015-05","b":1.12,"s":2.75,"e":1.62},{"t":"2015-06","b":1.25,"s":2.85,"e":1.55},{"t":"2015-07","b":1.07,"s":2.6,"e":1.52},{"t":"2015-08","b":1.97,"s":3.38,"e":1.5},{"t":"2015-09","b":1.7,"s":3.28,"e":1.52},{"t":"2015-10","b":0.98,"s":2.48,"e":1.5},{"t":"2015-11","b":1.13,"s":2.68,"e":1.58},{"t":"2015-12","b":0.7,"s":2.2,"e":1.48},
{"t":"2016-01","b":1.22,"s":2.65,"e":1.42},{"t":"2016-02","b":0.9,"s":2.3,"e":1.45},{"t":"2016-03","b":0.45,"s":1.88,"e":1.43},{"t":"2016-04","b":1.18,"s":2.55,"e":1.38},{"t":"2016-05","b":1.47,"s":2.8,"e":1.35},{"t":"2016-06","b":-0.1,"s":1.28,"e":1.38},{"t":"2016-07","b":0.85,"s":2.15,"e":1.33},{"t":"2016-08","b":1.05,"s":2.27,"e":1.3},{"t":"2016-09","b":0.97,"s":2.25,"e":1.32},{"t":"2016-10","b":0.88,"s":2.12,"e":1.32},{"t":"2016-11","b":0.82,"s":2.15,"e":1.35},{"t":"2016-12","b":1.22,"s":2.58,"e":1.28},
{"t":"2017-01","b":1.05,"s":2.3,"e":1.27},{"t":"2017-02","b":0.8,"s":2.0,"e":1.3},{"t":"2017-03","b":0.85,"s":2.18,"e":1.22},{"t":"2017-04","b":0.45,"s":1.8,"e":1.35},{"t":"2017-05","b":0.95,"s":2.2,"e":1.33},{"t":"2017-06","b":0.82,"s":2.1,"e":1.25},{"t":"2017-07","b":1.22,"s":2.5,"e":1.3},{"t":"2017-08","b":1.18,"s":2.45,"e":1.28},{"t":"2017-09","b":1.5,"s":2.7,"e":1.28},{"t":"2017-10","b":1.33,"s":2.55,"e":1.25},{"t":"2017-11","b":1.3,"s":2.48,"e":1.25},{"t":"2017-12","b":0.7,"s":1.98,"e":1.28},
{"t":"2018-01","b":0.6,"s":1.9,"e":1.3},{"t":"2018-02","b":0.92,"s":2.05,"e":1.12},{"t":"2018-03","b":0.7,"s":1.92,"e":1.2},{"t":"2018-04","b":0.98,"s":2.2,"e":1.25},{"t":"2018-05","b":0.72,"s":1.95,"e":1.22},{"t":"2018-06","b":0.65,"s":1.75,"e":1.1},{"t":"2018-07","b":1.3,"s":2.45,"e":1.25},{"t":"2018-08","b":1.3,"s":2.45,"e":1.2},{"t":"2018-09","b":0.92,"s":2.08,"e":1.15},{"t":"2018-10","b":1.0,"s":2.15,"e":1.22},{"t":"2018-11","b":1.05,"s":2.28,"e":1.23},{"t":"2018-12","b":0.6,"s":1.85,"e":1.25},
{"t":"2019-01","b":0.45,"s":1.58,"e":1.28},{"t":"2019-02","b":0.48,"s":1.6,"e":1.17},{"t":"2019-03","b":0.4,"s":1.6,"e":1.2},{"t":"2019-04","b":0.55,"s":1.7,"e":1.22},{"t":"2019-05","b":0.68,"s":1.8,"e":1.15},{"t":"2019-06","b":0.18,"s":1.3,"e":1.2},{"t":"2019-07","b":0.65,"s":1.8,"e":1.15},{"t":"2019-08","b":0.7,"s":1.8,"e":1.2},{"t":"2019-09","b":0.42,"s":1.55,"e":1.2},{"t":"2019-10","b":0.68,"s":1.85,"e":1.22},{"t":"2019-11","b":0.25,"s":1.42,"e":1.28},{"t":"2019-12","b":0.25,"s":1.48,"e":1.15},
{"t":"2020-01","b":0.15,"s":1.28,"e":1.15},{"t":"2020-02","b":0.32,"s":1.45,"e":1.15},{"t":"2020-03","b":0.32,"s":1.47,"e":1.15}],
"p8":[
{"t":"2012-01","b":1.45,"s":4.52,"e":3.05},{"t":"2012-02","b":0.8,"s":4.47,"e":3.65},{"t":"2012-03","b":1.85,"s":5.1,"e":3.3},{"t":"2012-04","b":2.55,"s":6.05,"e":3.5},{"t":"2012-05","b":2.5,"s":5.98,"e":3.5},{"t":"2012-06","b":2.05,"s":5.3,"e":3.28},{"t":"2012-07","b":1.6,"s":4.95,"e":3.35},{"t":"2012-08","b":1.95,"s":5.03,"e":3.12},{"t":"2012-09","b":2.9,"s":5.82,"e":2.97},{"t":"2012-10","b":2.9,"s":5.98,"e":3.12},{"t":"2012-11","b":2.55,"s":5.72,"e":3.15},{"t":"2012-12","b":1.9,"s":4.8,"e":2.97},
{"t":"2013-01","b":0.95,"s":4.3,"e":3.35},{"t":"2013-02","b":-0.2,"s":3.15,"e":3.32},{"t":"2013-03","b":-0.15,"s":3.05,"e":3.2},{"t":"2013-04","b":-0.12,"s":3.2,"e":3.32},{"t":"2013-05","b":0.85,"s":3.95,"e":3.0},{"t":"2013-06","b":1.68,"s":4.6,"e":2.95},{"t":"2013-07","b":0.9,"s":3.85,"e":2.97},{"t":"2013-08","b":0.75,"s":3.7,"e":2.95},{"t":"2013-09","b":-0.08,"s":2.9,"e":2.97},{"t":"2013-10","b":0.52,"s":3.65,"e":3.15},{"t":"2013-11","b":1.1,"s":4.1,"e":3.0},{"t":"2013-12","b":2.52,"s":5.4,"e":2.92},
{"t":"2014-01","b":2.05,"s":5.05,"e":3.0},{"t":"2014-02","b":1.95,"s":4.83,"e":2.92},{"t":"2014-03","b":1.92,"s":4.85,"e":2.95},{"t":"2014-04","b":2.5,"s":5.3,"e":2.85},{"t":"2014-05","b":3.15,"s":5.97,"e":2.82},{"t":"2014-06","b":2.75,"s":5.45,"e":2.72},{"t":"2014-07","b":1.88,"s":4.58,"e":2.68},{"t":"2014-08","b":2.42,"s":4.95,"e":2.55},{"t":"2014-09","b":2.3,"s":4.72,"e":2.42},{"t":"2014-10","b":1.98,"s":4.45,"e":2.42},{"t":"2014-11","b":0.75,"s":3.1,"e":2.28},{"t":"2014-12","b":0.35,"s":2.45,"e":2.12},
{"t":"2015-01","b":0.48,"s":2.7,"e":2.18},{"t":"2015-02","b":0.78,"s":2.95,"e":2.1},{"t":"2015-03","b":1.12,"s":3.15,"e":2.0},{"t":"2015-04","b":1.42,"s":3.45,"e":2.0},{"t":"2015-05","b":-0.05,"s":1.9,"e":2.02},{"t":"2015-06","b":-0.72,"s":1.3,"e":2.03},{"t":"2015-07","b":-0.55,"s":1.52,"e":2.03},{"t":"2015-08","b":-0.5,"s":1.5,"e":2.02},{"t":"2015-09","b":-0.5,"s":1.45,"e":2.15},{"t":"2015-10","b":-0.7,"s":1.22,"e":2.05},{"t":"2015-11","b":-0.78,"s":2.32,"e":1.98},{"t":"2015-12","b":0.38,"s":2.05,"e":2.05},
{"t":"2016-01","b":0.2,"s":2.38,"e":1.75},{"t":"2016-02","b":0.35,"s":2.0,"e":1.75},{"t":"2016-03","b":0.27,"s":2.4,"e":1.82},{"t":"2016-04","b":0.65,"s":2.25,"e":1.78},{"t":"2016-05","b":0.45,"s":2.32,"e":1.72},{"t":"2016-06","b":0.6,"s":2.15,"e":1.62},{"t":"2016-07","b":0.55,"s":1.85,"e":1.65},{"t":"2016-08","b":0.03,"s":1.55,"e":1.52},{"t":"2016-09","b":-0.05,"s":1.42,"e":1.62},{"t":"2016-10","b":-0.22,"s":1.55,"e":1.6},{"t":"2016-11","b":-0.1,"s":1.8,"e":1.62},{"t":"2016-12","b":0.3,"s":1.8,"e":1.52},
{"t":"2017-01","b":0.2,"s":1.72,"e":1.6},{"t":"2017-02","b":0.15,"s":2.0,"e":1.62},{"t":"2017-03","b":0.5,"s":2.05,"e":1.58},{"t":"2017-04","b":0.52,"s":2.28,"e":1.52},{"t":"2017-05","b":0.62,"s":1.6,"e":1.55},{"t":"2017-06","b":-0.05,"s":1.38,"e":1.58},{"t":"2017-07","b":-0.12,"s":1.0,"e":1.6},{"t":"2017-08","b":-0.65,"s":1.22,"e":1.55},{"t":"2017-09","b":-0.38,"s":1.95,"e":1.68},{"t":"2017-10","b":0.37,"s":1.7,"e":1.58},{"t":"2017-11","b":0.1,"s":1.85,"e":1.58},{"t":"2017-12","b":0.25,"s":1.5,"e":1.6},
{"t":"2018-01","b":-0.05,"s":1.62,"e":1.55},{"t":"2018-02","b":0.05,"s":1.72,"e":1.62},{"t":"2018-03","b":0.08,"s":2.0,"e":1.65},{"t":"2018-04","b":0.35,"s":2.0,"e":1.65},{"t":"2018-05","b":0.37,"s":2.15,"e":1.65},{"t":"2018-06","b":0.47,"s":1.72,"e":1.65},{"t":"2018-07","b":0.07,"s":1.68,"e":1.65},{"t":"2018-08","b":0.05,"s":1.5,"e":1.7},{"t":"2018-09","b":-0.2,"s":1.88,"e":1.65},{"t":"2018-10","b":0.2,"s":1.92,"e":1.68},{"t":"2018-11","b":0.27,"s":1.78,"e":1.7},{"t":"2018-12","b":0.1,"s":1.3,"e":1.65},
{"t":"2019-01","b":-0.25,"s":1.28,"e":1.65},{"t":"2019-02","b":-0.32,"s":1.6,"e":1.6},{"t":"2019-03","b":0.1,"s":1.85,"e":1.6},{"t":"2019-04","b":0.3,"s":1.75,"e":1.58},{"t":"2019-05","b":0.3,"s":1.4,"e":1.5},{"t":"2019-06","b":-0.1,"s":1.32,"e":1.45},{"t":"2019-07","b":-0.05,"s":2.18,"e":1.4},{"t":"2019-08","b":0.8,"s":2.12,"e":1.4},{"t":"2019-09","b":0.75,"s":2.05,"e":1.38},{"t":"2019-10","b":0.78,"s":1.35,"e":1.3},{"t":"2019-11","b":0.0,"s":1.28,"e":1.3},{"t":"2019-12","b":-0.15,"s":1.2,"e":1.37},
{"t":"2020-01","b":-0.12,"s":1.15,"e":1.28},{"t":"2020-02","b":-0.05,"s":1.22,"e":1.25},{"t":"2020-03","b":0.18,"s":1.35,"e":1.18}]
},
"concat":[
{"width":540,"height":320,"resolve":{"axis":{"y":"independent"}},
"layer":[
{"data":{"name":"p1"},"mark":{"type":"bar","binSpacing":0},"encoding":{
"x":{"field":"t","type":"temporal","timeUnit":"utcyearmonth","scale":{"domain":[{"year":2012,"month":1,"date":1,"utc":true},{"year":2021,"month":1,"date":1,"utc":true}],"nice":false},"axis":{"values":[{"year":2012,"month":1,"date":1,"utc":true},{"year":2013,"month":1,"date":1,"utc":true},{"year":2014,"month":1,"date":1,"utc":true},{"year":2015,"month":1,"date":1,"utc":true},{"year":2016,"month":1,"date":1,"utc":true},{"year":2017,"month":1,"date":1,"utc":true},{"year":2018,"month":1,"date":1,"utc":true},{"year":2019,"month":1,"date":1,"utc":true},{"year":2020,"month":1,"date":1,"utc":true}],"format":"%Y","labelOffset":30,"labelFlush":false,"labelPadding":10,"grid":true,"title":null}},
"y":{"field":"b","type":"quantitative","scale":{"domain":[-2,8],"nice":false,"zero":false},"axis":{"orient":"left","values":[-2,-1,0,1,2,3,4,5,6,7,8],"labelExpr":"''+datum.value","grid":true,"labelPadding":13,"title":"v %","titleAngle":0,"titleX":5,"titleY":-5,"titleAlign":"left","titleBaseline":"alphabetic","titleFontStyle":"italic","titleFontWeight":"normal","titleFontSize":15}},
"fill":{"datum":"Razlika","type":"nominal","scale":{"range":["#bfbfbf"]},"legend":{"orient":"none","legendX":46,"legendY":117,"symbolType":"M-1,-0.45L1,-0.45L1,0.45L-1,0.45Z","symbolSize":400,"symbolStrokeWidth":0,"title":null,"labelFontSize":15,"labelOffset":2,"padding":0}}}},
{"data":{"name":"one"},"mark":{"type":"rule","color":"#bfbfbf","strokeWidth":1.5},"encoding":{"y":{"datum":0,"type":"quantitative","axis":null}}},
{"data":{"name":"p1"},"mark":{"type":"line","strokeWidth":2.2},"encoding":{
"x":{"field":"t","type":"temporal","timeUnit":"utcyearmonth","bandPosition":0.5,"axis":null},
"y":{"field":"s","type":"quantitative","scale":{"domain":[-2,8],"nice":false,"zero":false},"axis":{"orient":"right","values":[-2,-1,0,1,2,3,4,5,6,7,8],"labelExpr":"''+datum.value","grid":false,"labelPadding":14,"title":null}},
"stroke":{"datum":"Slovenija","type":"nominal","scale":{"domain":["Slovenija","Evroobmočje"],"range":["#1f4e8c","#c8474a"]},"legend":{"orient":"none","legendX":46,"legendY":137.4,"symbolType":"stroke","symbolSize":400,"symbolStrokeWidth":2.2,"rowPadding":1.6,"title":null,"labelFontSize":15,"labelOffset":2,"padding":0}}}},
{"data":{"name":"p1"},"mark":{"type":"line","strokeWidth":2.2},"encoding":{
"x":{"field":"t","type":"temporal","timeUnit":"utcyearmonth","bandPosition":0.5,"axis":null},
"y":{"field":"e","type":"quantitative","scale":{"domain":[-2,8],"nice":false,"zero":false},"axis":null},
"stroke":{"datum":"Evroobmočje","type":"nominal"}}},
{"data":{"name":"one"},"mark":{"type":"rect","fill":"#ffffff","stroke":"#c4c4c4","strokeWidth":1.5},"encoding":{
"x":{"datum":{"year":2016,"month":7,"date":23,"utc":true},"type":"temporal","axis":null},"x2":{"datum":{"year":2020,"month":12,"date":6,"utc":true}},
"y":{"datum":7.875,"type":"quantitative","axis":null},"y2":{"datum":6.572}}},
{"data":{"name":"one"},"mark":{"type":"text","text":["OM ZA POTROŠNIŠKA POSOJILA","VARIABILNE OM"],"align":"center","baseline":"top","fontSize":15,"fontWeight":"normal","lineHeight":17.5,"fill":"#000000"},"encoding":{
"x":{"datum":{"year":2018,"month":10,"date":1,"utc":true},"type":"temporal","axis":null},"y":{"datum":7.69,"type":"quantitative","axis":null}}}
]},
{"width":540,"height":320,"resolve":{"axis":{"y":"independent"}},
"layer":[
{"data":{"name":"p2"},"mark":{"type":"bar","binSpacing":0},"encoding":{
"x":{"field":"t","type":"temporal","timeUnit":"utcyearmonth","scale":{"domain":[{"year":2012,"month":1,"date":1,"utc":true},{"year":2021,"month":1,"date":1,"utc":true}],"nice":false},"axis":{"values":[{"year":2012,"month":1,"date":1,"utc":true},{"year":2013,"month":1,"date":1,"utc":true},{"year":2014,"month":1,"date":1,"utc":true},{"year":2015,"month":1,"date":1,"utc":true},{"year":2016,"month":1,"date":1,"utc":true},{"year":2017,"month":1,"date":1,"utc":true},{"year":2018,"month":1,"date":1,"utc":true},{"year":2019,"month":1,"date":1,"utc":true},{"year":2020,"month":1,"date":1,"utc":true}],"format":"%Y","labelOffset":30,"labelFlush":false,"labelPadding":10,"grid":true,"title":null}},
"y":{"field":"b","type":"quantitative","scale":{"domain":[-2,8],"nice":false,"zero":false},"axis":{"orient":"left","values":[-2,-1,0,1,2,3,4,5,6,7,8],"labelExpr":"''+datum.value","grid":true,"labelPadding":13,"title":"v %","titleAngle":0,"titleX":5,"titleY":-5,"titleAlign":"left","titleBaseline":"alphabetic","titleFontStyle":"italic","titleFontWeight":"normal","titleFontSize":15}},
"fill":{"datum":"Razlika","type":"nominal","scale":{"range":["#bfbfbf"]},"legend":{"orient":"none","legendX":77.6,"legendY":129.7,"symbolType":"M-1,-0.45L1,-0.45L1,0.45L-1,0.45Z","symbolSize":400,"symbolStrokeWidth":0,"title":null,"labelFontSize":15,"labelOffset":2,"padding":0}}}},
{"data":{"name":"one"},"mark":{"type":"rule","color":"#bfbfbf","strokeWidth":1.5},"encoding":{"y":{"datum":0,"type":"quantitative","axis":null}}},
{"data":{"name":"p2"},"mark":{"type":"line","strokeWidth":2.2},"encoding":{
"x":{"field":"t","type":"temporal","timeUnit":"utcyearmonth","bandPosition":0.5,"axis":null},
"y":{"field":"s","type":"quantitative","scale":{"domain":[-2,8],"nice":false,"zero":false},"axis":{"orient":"right","values":[-2,-1,0,1,2,3,4,5,6,7,8],"labelExpr":"''+datum.value","grid":false,"labelPadding":14,"title":null}},
"stroke":{"datum":"Slovenija","type":"nominal","scale":{"domain":["Slovenija","Evroobmočje"],"range":["#1f4e8c","#c8474a"]},"legend":{"orient":"none","legendX":77.6,"legendY":151,"symbolType":"stroke","symbolSize":400,"symbolStrokeWidth":2.2,"rowPadding":0.3,"title":null,"labelFontSize":15,"labelOffset":2,"padding":0}}}},
{"data":{"name":"p2"},"mark":{"type":"line","strokeWidth":2.2},"encoding":{
"x":{"field":"t","type":"temporal","timeUnit":"utcyearmonth","bandPosition":0.5,"axis":null},
"y":{"field":"e","type":"quantitative","scale":{"domain":[-2,8],"nice":false,"zero":false},"axis":null},
"stroke":{"datum":"Evroobmočje","type":"nominal"}}},
{"data":{"name":"one"},"mark":{"type":"rect","fill":"#ffffff","stroke":"#c4c4c4","strokeWidth":1.5},"encoding":{
"x":{"datum":{"year":2016,"month":7,"date":23,"utc":true},"type":"temporal","axis":null},"x2":{"datum":{"year":2020,"month":12,"date":19,"utc":true}},
"y":{"datum":7.875,"type":"quantitative","axis":null},"y2":{"datum":6.52}}},
{"data":{"name":"one"},"mark":{"type":"text","text":["OM ZA POTROŠNIŠKA POSOJILA","FIKSNE OM"],"align":"center","baseline":"top","fontSize":15,"fontWeight":"normal","lineHeight":17.5,"fill":"#000000"},"encoding":{
"x":{"datum":{"year":2018,"month":10,"date":7,"utc":true},"type":"temporal","axis":null},"y":{"datum":7.66,"type":"quantitative","axis":null}}}
]},
{"width":540,"height":320,"resolve":{"axis":{"y":"independent"}},
"layer":[
{"data":{"name":"p3"},"mark":{"type":"bar","binSpacing":0},"encoding":{
"x":{"field":"t","type":"temporal","timeUnit":"utcyearmonth","scale":{"domain":[{"year":2012,"month":1,"date":1,"utc":true},{"year":2021,"month":1,"date":1,"utc":true}],"nice":false},"axis":{"values":[{"year":2012,"month":1,"date":1,"utc":true},{"year":2013,"month":1,"date":1,"utc":true},{"year":2014,"month":1,"date":1,"utc":true},{"year":2015,"month":1,"date":1,"utc":true},{"year":2016,"month":1,"date":1,"utc":true},{"year":2017,"month":1,"date":1,"utc":true},{"year":2018,"month":1,"date":1,"utc":true},{"year":2019,"month":1,"date":1,"utc":true},{"year":2020,"month":1,"date":1,"utc":true}],"format":"%Y","labelOffset":30,"labelFlush":false,"labelPadding":10,"grid":true,"title":null}},
"y":{"field":"b","type":"quantitative","scale":{"domain":[0,7],"nice":false,"zero":false},"axis":{"orient":"left","values":[0,1,2,3,4,5,6,7],"labelExpr":"''+datum.value","grid":true,"labelPadding":13,"title":"v %","titleAngle":0,"titleX":5,"titleY":-5,"titleAlign":"left","titleBaseline":"alphabetic","titleFontStyle":"italic","titleFontWeight":"normal","titleFontSize":15}},
"fill":{"datum":"Razlika","type":"nominal","scale":{"range":["#bfbfbf"]},"legend":{"orient":"none","legendX":384,"legendY":74,"symbolType":"M-1,-0.45L1,-0.45L1,0.45L-1,0.45Z","symbolSize":400,"symbolStrokeWidth":0,"title":null,"labelFontSize":15,"labelOffset":2,"padding":0}}}},
{"data":{"name":"p3"},"mark":{"type":"line","strokeWidth":2.2},"encoding":{
"x":{"field":"t","type":"temporal","timeUnit":"utcyearmonth","bandPosition":0.5,"axis":null},
"y":{"field":"s","type":"quantitative","scale":{"domain":[0,7],"nice":false,"zero":false},"axis":{"orient":"right","values":[0,1,2,3,4,5,6,7],"labelExpr":"''+datum.value","grid":false,"labelPadding":14,"title":null}},
"stroke":{"datum":"Slovenija","type":"nominal","scale":{"domain":["Slovenija","Evroobmočje"],"range":["#1f4e8c","#c8474a"]},"legend":{"orient":"none","legendX":384,"legendY":95.4,"symbolType":"stroke","symbolSize":400,"symbolStrokeWidth":2.2,"rowPadding":2.3,"title":null,"labelFontSize":15,"labelOffset":2,"padding":0}}}},
{"data":{"name":"p3"},"mark":{"type":"line","strokeWidth":2.2},"encoding":{
"x":{"field":"t","type":"temporal","timeUnit":"utcyearmonth","bandPosition":0.5,"axis":null},
"y":{"field":"e","type":"quantitative","scale":{"domain":[0,7],"nice":false,"zero":false},"axis":null},
"stroke":{"datum":"Evroobmočje","type":"nominal"}}},
{"data":{"name":"one"},"mark":{"type":"rect","fill":"#ffffff","stroke":"#c4c4c4","strokeWidth":1.5},"encoding":{
"x":{"datum":{"year":2016,"month":7,"date":23,"utc":true},"type":"temporal","axis":null},"x2":{"datum":{"year":2020,"month":12,"date":25,"utc":true}},
"y":{"datum":6.919,"type":"quantitative","axis":null},"y2":{"datum":6.066}}},
{"data":{"name":"one"},"mark":{"type":"text","text":["OM ZA STANOVANJSKA POSOJILA","VARIABILNE OM"],"align":"center","baseline":"top","fontSize":15,"fontWeight":"normal","lineHeight":17.5,"fill":"#000000"},"encoding":{
"x":{"datum":{"year":2018,"month":10,"date":13,"utc":true},"type":"temporal","axis":null},"y":{"datum":6.83,"type":"quantitative","axis":null}}}
]},
{"width":540,"height":320,"resolve":{"axis":{"y":"independent"}},
"layer":[
{"data":{"name":"p4"},"mark":{"type":"bar","binSpacing":0},"encoding":{
"x":{"field":"t","type":"temporal","timeUnit":"utcyearmonth","scale":{"domain":[{"year":2012,"month":1,"date":1,"utc":true},{"year":2021,"month":1,"date":1,"utc":true}],"nice":false},"axis":{"values":[{"year":2012,"month":1,"date":1,"utc":true},{"year":2013,"month":1,"date":1,"utc":true},{"year":2014,"month":1,"date":1,"utc":true},{"year":2015,"month":1,"date":1,"utc":true},{"year":2016,"month":1,"date":1,"utc":true},{"year":2017,"month":1,"date":1,"utc":true},{"year":2018,"month":1,"date":1,"utc":true},{"year":2019,"month":1,"date":1,"utc":true},{"year":2020,"month":1,"date":1,"utc":true}],"format":"%Y","labelOffset":30,"labelFlush":false,"labelPadding":10,"grid":true,"title":null}},
"y":{"field":"b","type":"quantitative","scale":{"domain":[0,7],"nice":false,"zero":false},"axis":{"orient":"left","values":[0,1,2,3,4,5,6,7],"labelExpr":"''+datum.value","grid":true,"labelPadding":13,"title":"v %","titleAngle":0,"titleX":5,"titleY":-5,"titleAlign":"left","titleBaseline":"alphabetic","titleFontStyle":"italic","titleFontWeight":"normal","titleFontSize":15}},
"fill":{"datum":"Razlika","type":"nominal","scale":{"range":["#bfbfbf"]},"legend":{"orient":"none","legendX":388.5,"legendY":77.7,"symbolType":"M-1,-0.45L1,-0.45L1,0.45L-1,0.45Z","symbolSize":400,"symbolStrokeWidth":0,"title":null,"labelFontSize":15,"labelOffset":2,"padding":0}}}},
{"data":{"name":"p4"},"mark":{"type":"line","strokeWidth":2.2},"encoding":{
"x":{"field":"t","type":"temporal","timeUnit":"utcyearmonth","bandPosition":0.5,"axis":null},
"y":{"field":"s","type":"quantitative","scale":{"domain":[0,7],"nice":false,"zero":false},"axis":{"orient":"right","values":[0,1,2,3,4,5,6,7],"labelExpr":"''+datum.value","grid":false,"labelPadding":14,"title":null}},
"stroke":{"datum":"Slovenija","type":"nominal","scale":{"domain":["Slovenija","Evroobmočje"],"range":["#1f4e8c","#c8474a"]},"legend":{"orient":"none","legendX":388.5,"legendY":101.7,"symbolType":"stroke","symbolSize":400,"symbolStrokeWidth":2.2,"rowPadding":5,"title":null,"labelFontSize":15,"labelOffset":2,"padding":0}}}},
{"data":{"name":"p4"},"mark":{"type":"line","strokeWidth":2.2},"encoding":{
"x":{"field":"t","type":"temporal","timeUnit":"utcyearmonth","bandPosition":0.5,"axis":null},
"y":{"field":"e","type":"quantitative","scale":{"domain":[0,7],"nice":false,"zero":false},"axis":null},
"stroke":{"datum":"Evroobmočje","type":"nominal"}}},
{"data":{"name":"one"},"mark":{"type":"rect","fill":"#ffffff","stroke":"#c4c4c4","strokeWidth":1.5},"encoding":{
"x":{"datum":{"year":2016,"month":7,"date":23,"utc":true},"type":"temporal","axis":null},"x2":{"datum":{"year":2020,"month":12,"date":6,"utc":true}},
"y":{"datum":6.904,"type":"quantitative","axis":null},"y2":{"datum":5.897}}},
{"data":{"name":"one"},"mark":{"type":"text","text":["OM ZA STANOVANJSKA POSOJILA","FIKSNE OM"],"align":"center","baseline":"top","fontSize":15,"fontWeight":"normal","lineHeight":17.5,"fill":"#000000"},"encoding":{
"x":{"datum":{"year":2018,"month":10,"date":2,"utc":true},"type":"temporal","axis":null},"y":{"datum":6.718,"type":"quantitative","axis":null}}}
]},
{"width":540,"height":320,"resolve":{"axis":{"y":"independent"}},
"layer":[
{"data":{"name":"p5"},"mark":{"type":"bar","binSpacing":0},"encoding":{
"x":{"field":"t","type":"temporal","timeUnit":"utcyearmonth","scale":{"domain":[{"year":2012,"month":1,"date":1,"utc":true},{"year":2021,"month":1,"date":1,"utc":true}],"nice":false},"axis":{"values":[{"year":2012,"month":1,"date":1,"utc":true},{"year":2013,"month":1,"date":1,"utc":true},{"year":2014,"month":1,"date":1,"utc":true},{"year":2015,"month":1,"date":1,"utc":true},{"year":2016,"month":1,"date":1,"utc":true},{"year":2017,"month":1,"date":1,"utc":true},{"year":2018,"month":1,"date":1,"utc":true},{"year":2019,"month":1,"date":1,"utc":true},{"year":2020,"month":1,"date":1,"utc":true}],"format":"%Y","labelOffset":30,"labelFlush":false,"labelPadding":10,"grid":true,"title":null}},
"y":{"field":"b","type":"quantitative","scale":{"domain":[0,8],"nice":false,"zero":false},"axis":{"orient":"left","values":[0,1,2,3,4,5,6,7,8],"labelExpr":"''+datum.value","grid":true,"labelPadding":13,"title":"v %","titleAngle":0,"titleX":5,"titleY":-5,"titleAlign":"left","titleBaseline":"alphabetic","titleFontStyle":"italic","titleFontWeight":"normal","titleFontSize":15}},
"fill":{"datum":"Razlika","type":"nominal","scale":{"range":["#bfbfbf"]},"legend":{"orient":"none","legendX":385.4,"legendY":72.8,"symbolType":"M-1,-0.45L1,-0.45L1,0.45L-1,0.45Z","symbolSize":400,"symbolStrokeWidth":0,"title":null,"labelFontSize":15,"labelOffset":2,"padding":0}}}},
{"data":{"name":"p5"},"mark":{"type":"line","strokeWidth":2.2},"encoding":{
"x":{"field":"t","type":"temporal","timeUnit":"utcyearmonth","bandPosition":0.5,"axis":null},
"y":{"field":"s","type":"quantitative","scale":{"domain":[0,8],"nice":false,"zero":false},"axis":{"orient":"right","values":[0,1,2,3,4,5,6,7,8],"labelExpr":"''+datum.value","grid":false,"labelPadding":14,"title":null}},
"stroke":{"datum":"Slovenija","type":"nominal","scale":{"domain":["Slovenija","Evroobmočje"],"range":["#1f4e8c","#c8474a"]},"legend":{"orient":"none","legendX":385.4,"legendY":100,"symbolType":"stroke","symbolSize":400,"symbolStrokeWidth":2.2,"rowPadding":6.7,"title":null,"labelFontSize":15,"labelOffset":2,"padding":0}}}},
{"data":{"name":"p5"},"mark":{"type":"line","strokeWidth":2.2},"encoding":{
"x":{"field":"t","type":"temporal","timeUnit":"utcyearmonth","bandPosition":0.5,"axis":null},
"y":{"field":"e","type":"quantitative","scale":{"domain":[0,8],"nice":false,"zero":false},"axis":null},
"stroke":{"datum":"Evroobmočje","type":"nominal"}}},
{"data":{"name":"one"},"mark":{"type":"rect","fill":"#ffffff","stroke":"#c4c4c4","strokeWidth":1.5},"encoding":{
"x":{"datum":{"year":2015,"month":3,"date":21,"utc":true},"type":"temporal","axis":null},"x2":{"datum":{"year":2020,"month":12,"date":30,"utc":true}},
"y":{"datum":7.9,"type":"quantitative","axis":null},"y2":{"datum":6.708}}},
{"data":{"name":"one"},"mark":{"type":"text","text":["OM ZA POSOJILA PODJETJEM DO 1 MIO EUR","VARIABILNE OM"],"align":"center","baseline":"top","fontSize":15,"fontWeight":"normal","lineHeight":17.5,"fill":"#000000"},"encoding":{
"x":{"datum":{"year":2018,"month":2,"date":9,"utc":true},"type":"temporal","axis":null},"y":{"datum":7.662,"type":"quantitative","axis":null}}}
]},
{"width":540,"height":320,"resolve":{"axis":{"y":"independent"}},
"layer":[
{"data":{"name":"p6"},"mark":{"type":"bar","binSpacing":0},"encoding":{
"x":{"field":"t","type":"temporal","timeUnit":"utcyearmonth","scale":{"domain":[{"year":2012,"month":1,"date":1,"utc":true},{"year":2021,"month":1,"date":1,"utc":true}],"nice":false},"axis":{"values":[{"year":2012,"month":1,"date":1,"utc":true},{"year":2013,"month":1,"date":1,"utc":true},{"year":2014,"month":1,"date":1,"utc":true},{"year":2015,"month":1,"date":1,"utc":true},{"year":2016,"month":1,"date":1,"utc":true},{"year":2017,"month":1,"date":1,"utc":true},{"year":2018,"month":1,"date":1,"utc":true},{"year":2019,"month":1,"date":1,"utc":true},{"year":2020,"month":1,"date":1,"utc":true}],"format":"%Y","labelOffset":30,"labelFlush":false,"labelPadding":10,"grid":true,"title":null}},
"y":{"field":"b","type":"quantitative","scale":{"domain":[0,8],"nice":false,"zero":false},"axis":{"orient":"left","values":[0,1,2,3,4,5,6,7,8],"labelExpr":"''+datum.value","grid":true,"labelPadding":13,"title":"v %","titleAngle":0,"titleX":5,"titleY":-5,"titleAlign":"left","titleBaseline":"alphabetic","titleFontStyle":"italic","titleFontWeight":"normal","titleFontSize":15}},
"fill":{"datum":"Razlika","type":"nominal","scale":{"range":["#bfbfbf"]},"legend":{"orient":"none","legendX":386.2,"legendY":64,"symbolType":"M-1,-0.45L1,-0.45L1,0.45L-1,0.45Z","symbolSize":400,"symbolStrokeWidth":0,"title":null,"labelFontSize":15,"labelOffset":2,"padding":0}}}},
{"data":{"name":"p6"},"mark":{"type":"line","strokeWidth":2.2},"encoding":{
"x":{"field":"t","type":"temporal","timeUnit":"utcyearmonth","bandPosition":0.5,"axis":null},
"y":{"field":"s","type":"quantitative","scale":{"domain":[0,8],"nice":false,"zero":false},"axis":{"orient":"right","values":[0,1,2,3,4,5,6,7,8],"labelExpr":"''+datum.value","grid":false,"labelPadding":14,"title":null}},
"stroke":{"datum":"Slovenija","type":"nominal","scale":{"domain":["Slovenija","Evroobmočje"],"range":["#1f4e8c","#c8474a"]},"legend":{"orient":"none","legendX":386.2,"legendY":88.3,"symbolType":"stroke","symbolSize":400,"symbolStrokeWidth":2.2,"rowPadding":3.4,"title":null,"labelFontSize":15,"labelOffset":2,"padding":0}}}},
{"data":{"name":"p6"},"mark":{"type":"line","strokeWidth":2.2},"encoding":{
"x":{"field":"t","type":"temporal","timeUnit":"utcyearmonth","bandPosition":0.5,"axis":null},
"y":{"field":"e","type":"quantitative","scale":{"domain":[0,8],"nice":false,"zero":false},"axis":null},
"stroke":{"datum":"Evroobmočje","type":"nominal"}}},
{"data":{"name":"one"},"mark":{"type":"rect","fill":"#ffffff","stroke":"#c4c4c4","strokeWidth":1.5},"encoding":{
"x":{"datum":{"year":2015,"month":3,"date":4,"utc":true},"type":"temporal","axis":null},"x2":{"datum":{"year":2020,"month":12,"date":25,"utc":true}},
"y":{"datum":7.918,"type":"quantitative","axis":null},"y2":{"datum":6.808}}},
{"data":{"name":"one"},"mark":{"type":"text","text":["OM ZA POSOJILA PODJETJEM DO 1 MIO EUR","FIKSNE OM"],"align":"center","baseline":"top","fontSize":15,"fontWeight":"normal","lineHeight":17.5,"fill":"#000000"},"encoding":{
"x":{"datum":{"year":2018,"month":1,"date":30,"utc":true},"type":"temporal","axis":null},"y":{"datum":7.705,"type":"quantitative","axis":null}}}
]},
{"width":540,"height":320,"resolve":{"axis":{"y":"independent"}},
"layer":[
{"data":{"name":"p7"},"mark":{"type":"bar","binSpacing":0},"encoding":{
"x":{"field":"t","type":"temporal","timeUnit":"utcyearmonth","scale":{"domain":[{"year":2012,"month":1,"date":1,"utc":true},{"year":2021,"month":1,"date":1,"utc":true}],"nice":false},"axis":{"values":[{"year":2012,"month":1,"date":1,"utc":true},{"year":2013,"month":1,"date":1,"utc":true},{"year":2014,"month":1,"date":1,"utc":true},{"year":2015,"month":1,"date":1,"utc":true},{"year":2016,"month":1,"date":1,"utc":true},{"year":2017,"month":1,"date":1,"utc":true},{"year":2018,"month":1,"date":1,"utc":true},{"year":2019,"month":1,"date":1,"utc":true},{"year":2020,"month":1,"date":1,"utc":true}],"format":"%Y","labelOffset":30,"labelFlush":false,"labelPadding":10,"grid":true,"title":null}},
"y":{"field":"b","type":"quantitative","scale":{"domain":[-1,7],"nice":false,"zero":false},"axis":{"orient":"left","values":[-1,0,1,2,3,4,5,6,7],"labelExpr":"''+datum.value","grid":true,"labelPadding":13,"title":"v %","titleAngle":0,"titleX":5,"titleY":-5,"titleAlign":"left","titleBaseline":"alphabetic","titleFontStyle":"italic","titleFontWeight":"normal","titleFontSize":15}},
"fill":{"datum":"Razlika","type":"nominal","scale":{"range":["#bfbfbf"]},"legend":{"orient":"none","legendX":387.3,"legendY":72.7,"symbolType":"M-1,-0.45L1,-0.45L1,0.45L-1,0.45Z","symbolSize":400,"symbolStrokeWidth":0,"title":null,"labelFontSize":15,"labelOffset":2,"padding":0}}}},
{"data":{"name":"p7"},"mark":{"type":"line","strokeWidth":2.2},"encoding":{
"x":{"field":"t","type":"temporal","timeUnit":"utcyearmonth","bandPosition":0.5,"axis":null},
"y":{"field":"s","type":"quantitative","scale":{"domain":[-1,7],"nice":false,"zero":false},"axis":{"orient":"right","values":[-1,0,1,2,3,4,5,6,7],"labelExpr":"''+datum.value","grid":false,"labelPadding":14,"title":null}},
"stroke":{"datum":"Slovenija","type":"nominal","scale":{"domain":["Slovenija","Evroobmočje"],"range":["#1f4e8c","#c8474a"]},"legend":{"orient":"none","legendX":387.3,"legendY":95,"symbolType":"stroke","symbolSize":400,"symbolStrokeWidth":2.2,"rowPadding":1.5,"title":null,"labelFontSize":15,"labelOffset":2,"padding":0}}}},
{"data":{"name":"p7"},"mark":{"type":"line","strokeWidth":2.2},"encoding":{
"x":{"field":"t","type":"temporal","timeUnit":"utcyearmonth","bandPosition":0.5,"axis":null},
"y":{"field":"e","type":"quantitative","scale":{"domain":[-1,7],"nice":false,"zero":false},"axis":null},
"stroke":{"datum":"Evroobmočje","type":"nominal"}}},
{"data":{"name":"one"},"mark":{"type":"rect","fill":"#ffffff","stroke":"#c4c4c4","strokeWidth":1.5},"encoding":{
"x":{"datum":{"year":2015,"month":1,"date":26,"utc":true},"type":"temporal","axis":null},"x2":{"datum":{"year":2020,"month":12,"date":22,"utc":true}},
"y":{"datum":6.9325,"type":"quantitative","axis":null},"y2":{"datum":5.85}}},
{"data":{"name":"one"},"mark":{"type":"text","text":["OM ZA POSOJILA PODJETJEM NAD 1 MIO EUR","VARIABILNE OM"],"align":"center","baseline":"top","fontSize":15,"fontWeight":"normal","lineHeight":17.5,"fill":"#000000"},"encoding":{
"x":{"datum":{"year":2018,"month":1,"date":6,"utc":true},"type":"temporal","axis":null},"y":{"datum":6.762,"type":"quantitative","axis":null}}}
]},
{"width":540,"height":320,"resolve":{"axis":{"y":"independent"}},
"layer":[
{"data":{"name":"p8"},"mark":{"type":"bar","binSpacing":0},"encoding":{
"x":{"field":"t","type":"temporal","timeUnit":"utcyearmonth","scale":{"domain":[{"year":2012,"month":1,"date":1,"utc":true},{"year":2021,"month":1,"date":1,"utc":true}],"nice":false},"axis":{"values":[{"year":2012,"month":1,"date":1,"utc":true},{"year":2013,"month":1,"date":1,"utc":true},{"year":2014,"month":1,"date":1,"utc":true},{"year":2015,"month":1,"date":1,"utc":true},{"year":2016,"month":1,"date":1,"utc":true},{"year":2017,"month":1,"date":1,"utc":true},{"year":2018,"month":1,"date":1,"utc":true},{"year":2019,"month":1,"date":1,"utc":true},{"year":2020,"month":1,"date":1,"utc":true}],"format":"%Y","labelOffset":30,"labelFlush":false,"labelPadding":10,"grid":true,"title":null}},
"y":{"field":"b","type":"quantitative","scale":{"domain":[-1,7],"nice":false,"zero":false},"axis":{"orient":"left","values":[-1,0,1,2,3,4,5,6,7],"labelExpr":"''+datum.value","grid":true,"labelPadding":13,"title":"v %","titleAngle":0,"titleX":5,"titleY":-5,"titleAlign":"left","titleBaseline":"alphabetic","titleFontStyle":"italic","titleFontWeight":"normal","titleFontSize":15}},
"fill":{"datum":"Razlika","type":"nominal","scale":{"range":["#bfbfbf"]},"legend":{"orient":"none","legendX":320,"legendY":86.4,"symbolType":"M-1,-0.45L1,-0.45L1,0.45L-1,0.45Z","symbolSize":400,"symbolStrokeWidth":0,"title":null,"labelFontSize":15,"labelOffset":2,"padding":0}}}},
{"data":{"name":"p8"},"mark":{"type":"line","strokeWidth":2.2},"encoding":{
"x":{"field":"t","type":"temporal","timeUnit":"utcyearmonth","bandPosition":0.5,"axis":null},
"y":{"field":"s","type":"quantitative","scale":{"domain":[-1,7],"nice":false,"zero":false},"axis":{"orient":"right","values":[-1,0,1,2,3,4,5,6,7],"labelExpr":"''+datum.value","grid":false,"labelPadding":14,"title":null}},
"stroke":{"datum":"Slovenija (3-mes. d.s.)","type":"nominal","scale":{"domain":["Slovenija (3-mes. d.s.)","Evroobmočje"],"range":["#1f4e8c","#c8474a"]},"legend":{"orient":"none","legendX":320,"legendY":107,"symbolType":"stroke","symbolSize":400,"symbolStrokeWidth":2.2,"rowPadding":0,"title":null,"labelFontSize":15,"labelOffset":2,"padding":0,"labelLimit":300}}}},
{"data":{"name":"p8"},"mark":{"type":"line","strokeWidth":2.2},"encoding":{
"x":{"field":"t","type":"temporal","timeUnit":"utcyearmonth","bandPosition":0.5,"axis":null},
"y":{"field":"e","type":"quantitative","scale":{"domain":[-1,7],"nice":false,"zero":false},"axis":null},
"stroke":{"datum":"Evroobmočje","type":"nominal"}}},
{"data":{"name":"one"},"mark":{"type":"rect","fill":"#ffffff","stroke":"#c4c4c4","strokeWidth":1.5},"encoding":{
"x":{"datum":{"year":2015,"month":2,"date":19,"utc":true},"type":"temporal","axis":null},"x2":{"datum":{"year":2020,"month":12,"date":25,"utc":true}},
"y":{"datum":6.9325,"type":"quantitative","axis":null},"y2":{"datum":5.79}}},
{"data":{"name":"one"},"mark":{"type":"text","text":["OM ZA POSOJILA PODJETJEM NAD 1 MIO EUR","FIKSNE OM"],"align":"center","baseline":"top","fontSize":15,"fontWeight":"normal","lineHeight":17.5,"fill":"#000000"},"encoding":{
"x":{"datum":{"year":2018,"month":1,"date":23,"utc":true},"type":"temporal","axis":null},"y":{"datum":6.72,"type":"quantitative","axis":null}}}
]}
],
"resolve":{"scale":{"fill":"independent","stroke":"independent"},"legend":{"fill":"independent","stroke":"independent"}},
"config":{
"font":"Liberation Sans",
"view":{"stroke":"#bfbfbf","strokeWidth":2},
"axis":{"labelFont":"Liberation Sans","labelFontSize":15,"labelColor":"#000000","gridColor":"#c8c8c8","gridDash":[2,2],"gridWidth":1,"domain":false,"ticks":false,"tickSize":0,"titleColor":"#000000","titleFont":"Liberation Sans"},
"legend":{"labelFont":"Liberation Sans","labelFontSize":15,"labelColor":"#000000","direction":"vertical"},
"text":{"font":"Liberation Sans"}
}
}
